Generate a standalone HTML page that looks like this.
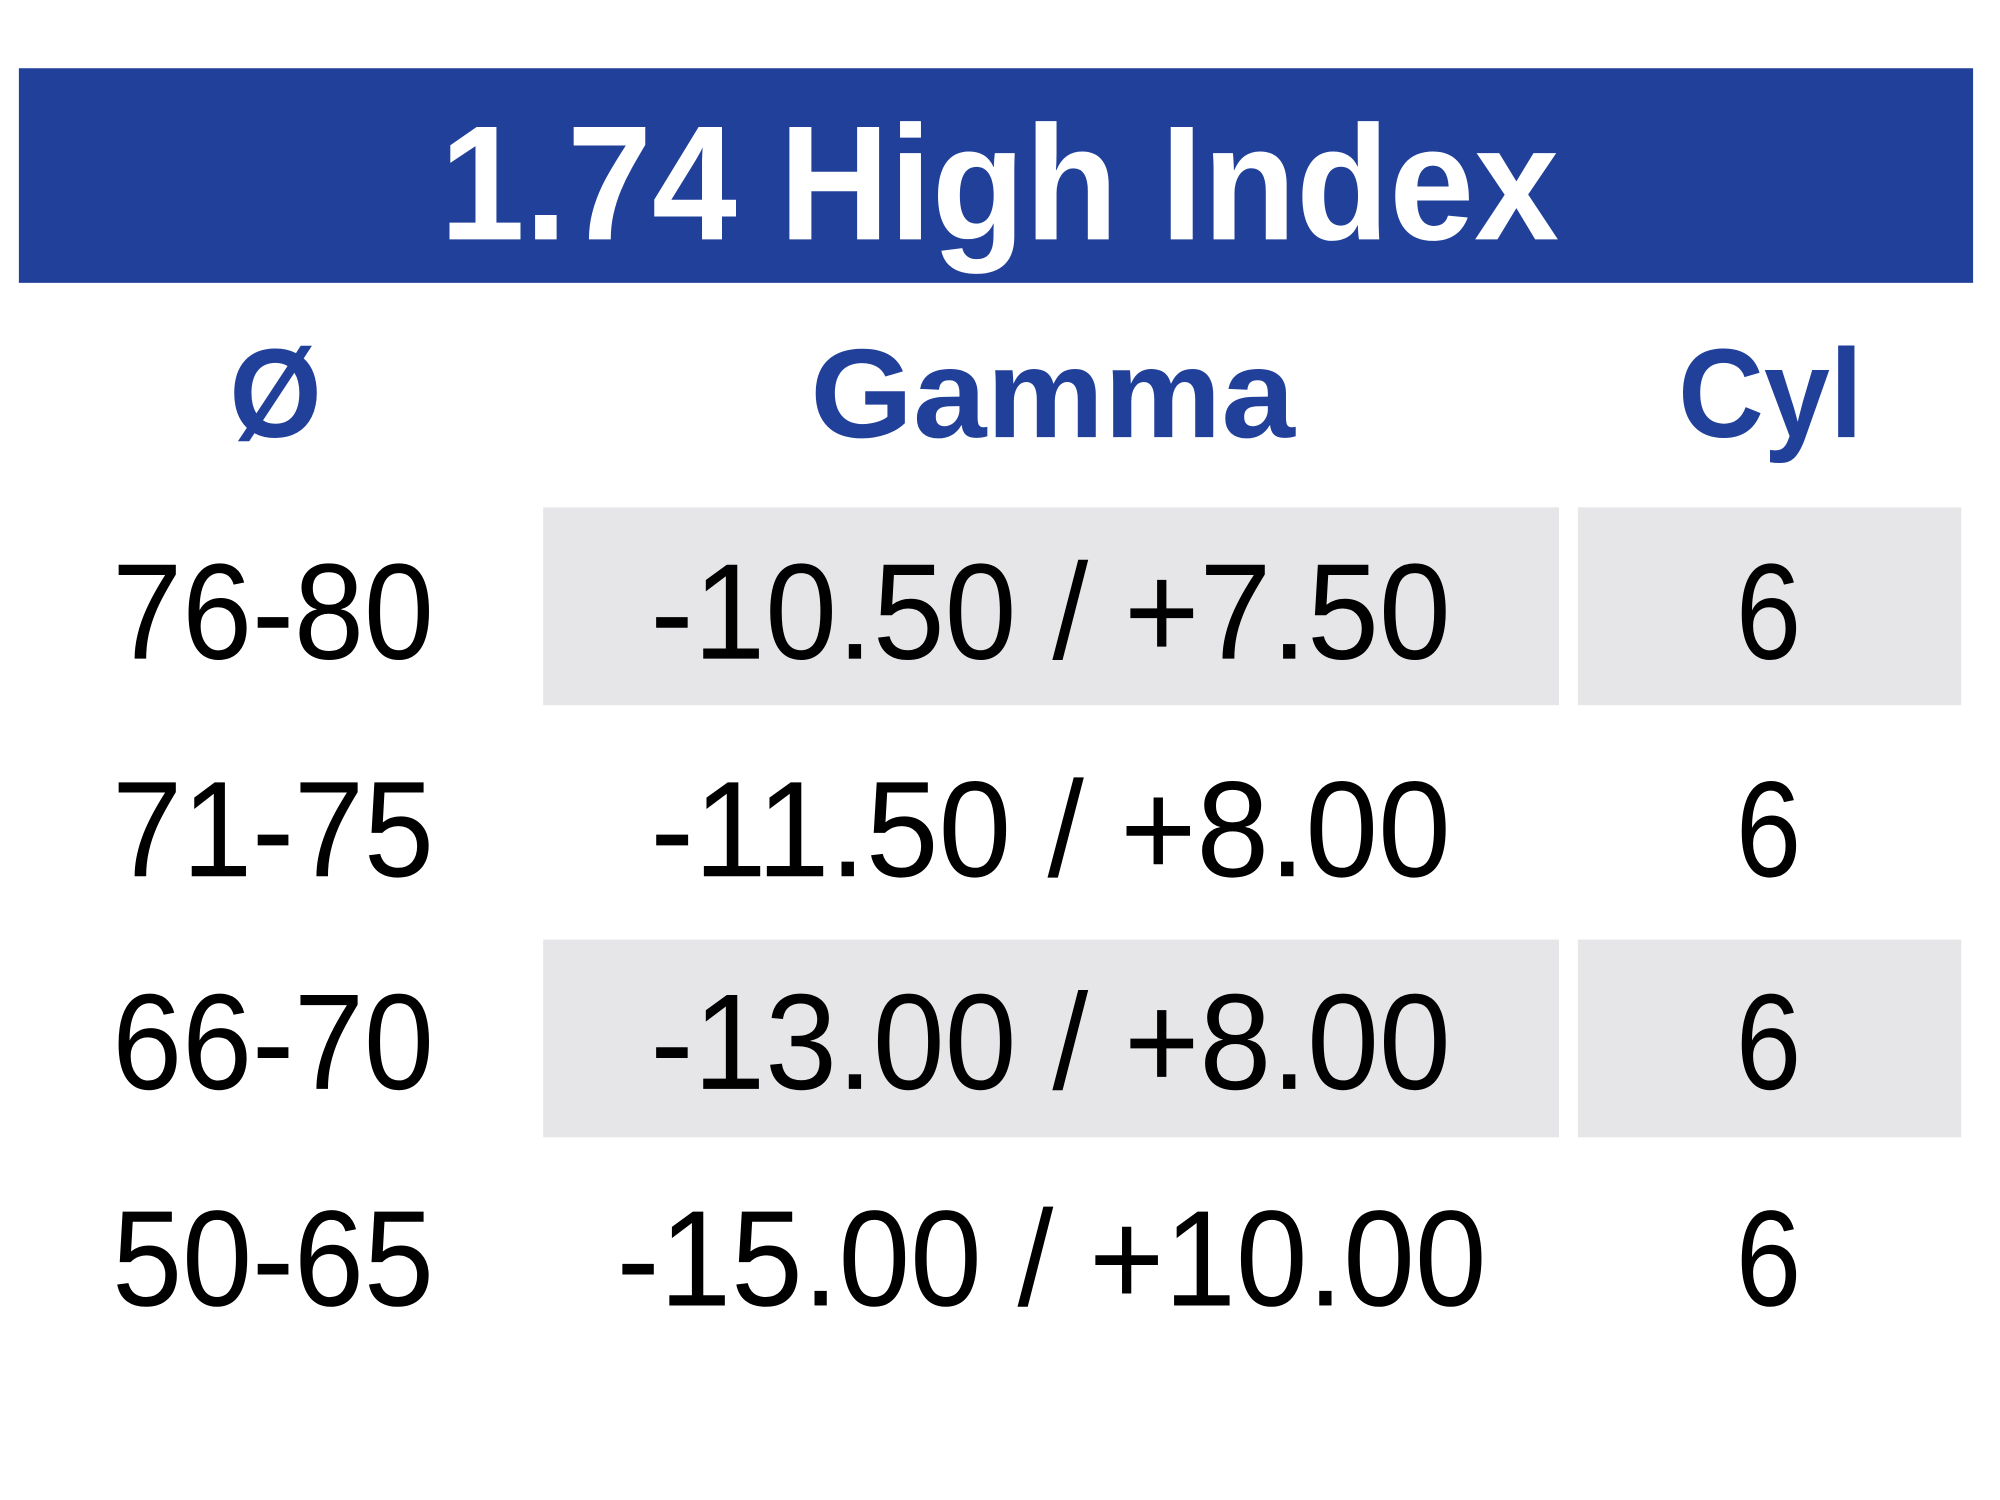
<!DOCTYPE html>
<html><head><style>html,body{margin:0;padding:0;background:#fff}svg{display:block}</style></head>
<body>
<svg width="2000" height="1500" viewBox="0 0 2000 1500" xmlns="http://www.w3.org/2000/svg">
<rect x="0" y="0" width="2000" height="1500" fill="#fff"/>
<g transform="scale(0.993,0.989)">
<rect x="19" y="69" width="1968" height="217" fill="#21409a"/>
<text x="443" y="242" font-family="Liberation Sans, sans-serif" font-weight="bold" font-size="165" fill="#fff" textLength="1127" lengthAdjust="spacingAndGlyphs">1.74 High Index</text>
<g font-family="Liberation Sans, sans-serif" font-weight="bold" font-size="128" fill="#21409a">
<text x="231" y="442" textLength="93" lengthAdjust="spacingAndGlyphs">Ø</text>
<text x="816" y="442" textLength="488" lengthAdjust="spacingAndGlyphs">Gamma</text>
<text x="1690" y="442" textLength="186" lengthAdjust="spacingAndGlyphs">Cyl</text>
</g>
<g fill="#e6e6e8">
<rect x="547" y="513" width="1023" height="200"/>
<rect x="1589" y="513" width="386" height="200"/>
<rect x="547" y="950" width="1023" height="200"/>
<rect x="1589" y="950" width="386" height="200"/>
</g>
<g font-family="Liberation Sans, sans-serif" font-size="138" fill="#000">
<text x="113" y="666" textLength="324" lengthAdjust="spacingAndGlyphs">76-80</text>
<text x="655" y="666" textLength="806" lengthAdjust="spacingAndGlyphs">-10.50 / +7.50</text>
<text x="1748" y="666" textLength="66" lengthAdjust="spacingAndGlyphs">6</text>
<text x="113" y="886" textLength="324" lengthAdjust="spacingAndGlyphs">71-75</text>
<text x="655" y="886" textLength="806" lengthAdjust="spacingAndGlyphs">-11.50 / +8.00</text>
<text x="1748" y="886" textLength="66" lengthAdjust="spacingAndGlyphs">6</text>
<text x="113" y="1101" textLength="324" lengthAdjust="spacingAndGlyphs">66-70</text>
<text x="655" y="1101" textLength="806" lengthAdjust="spacingAndGlyphs">-13.00 / +8.00</text>
<text x="1748" y="1101" textLength="66" lengthAdjust="spacingAndGlyphs">6</text>
<text x="113" y="1320" textLength="324" lengthAdjust="spacingAndGlyphs">50-65</text>
<text x="621" y="1320" textLength="876" lengthAdjust="spacingAndGlyphs">-15.00 / +10.00</text>
<text x="1748" y="1320" textLength="66" lengthAdjust="spacingAndGlyphs">6</text>
</g>
</g>
</svg>
</body></html>
